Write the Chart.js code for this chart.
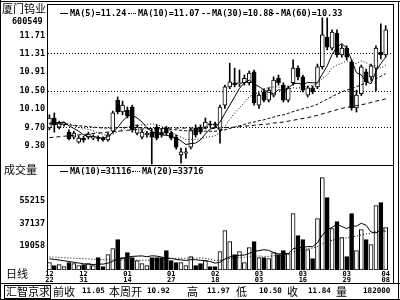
<!DOCTYPE html>
<html>
<head>
<meta charset="utf-8">
<script src="https://cdn.jsdelivr.net/npm/chart.js@4"></script>
<style>
  body { margin: 0; background: #fff; }
  #wrap { position: relative; width: 400px; height: 300px; overflow: hidden; background: #fff; }
  canvas { position: absolute; left: 0; }
  .t { position: absolute; white-space: pre; font: bold 8.5px "DejaVu Sans Mono", monospace; color: #000; line-height: 10px; }
  .s { position: absolute; white-space: pre; font: bold 7.6px "DejaVu Sans Mono", monospace; color: #000; line-height: 10px; }
  .cn { position: absolute; white-space: pre; font: 11px "Noto Sans CJK SC", sans-serif; color: #000; line-height: 12px; }
  .ln { position: absolute; background: #000; }
  .sw { display: inline-block; width: 8px; height: 0; border-top: 1px solid #000; vertical-align: middle; margin-right: 2px; }
  .box { position: absolute; border: 1px solid #000; }
</style>
</head>
<body>
<div id="wrap">
  <canvas id="price" width="393" height="161" style="top:5px"></canvas>
  <canvas id="vol" width="393" height="118" style="top:166px"></canvas>

  <!-- frame -->
  <div class="ln" style="left:0;top:1px;width:400px;height:1px"></div>
  <div class="ln" style="left:47px;top:4px;width:347px;height:1px"></div>
  <div class="ln" style="left:0;top:0;width:1px;height:300px"></div>
  <div class="ln" style="left:393px;top:4px;width:1px;height:280px"></div>
  <div class="ln" style="left:398px;top:1px;width:1px;height:299px"></div>
  <div class="ln" style="left:0;top:283px;width:400px;height:1px"></div>
  <div class="ln" style="left:0;top:299px;width:400px;height:1px"></div>

  <!-- left labels -->
  <div class="cn" style="left:2px;top:2px">厦门钨业</div>
  <div class="t" style="left:12px;top:16px">600549</div>
  <div class="cn" style="left:4px;top:163px">成交量</div>
  <div class="cn" style="left:6px;top:267px">日线</div>

  <!-- price legend -->
  <div class="t" style="left:60px;top:8px"><i class="sw"></i>MA(5)=11.24</div>
  <div class="t" style="left:128px;top:8px"><i class="sw" style="border-top-style:dotted"></i>MA(10)=11.07</div>
  <div class="t" style="left:202px;top:8px"><i class="sw" style="border-top-style:dashed"></i>MA(30)=10.88</div>
  <div class="t" style="left:271px;top:8px"><i class="sw" style="border-top-style:dashed"></i>MA(60)=10.33</div>

  <!-- volume legend -->
  <div class="t" style="left:60px;top:166px"><i class="sw"></i>MA(10)=31116</div>
  <div class="t" style="left:132px;top:166px"><i class="sw" style="border-top-style:dotted"></i>MA(20)=33716</div>

  <!-- status bar -->
  <div class="box" style="left:4px;top:285px;width:45px;height:12px"></div>
  <div class="cn" style="left:6px;top:285px">汇智京求</div>
  <div class="cn" style="left:53px;top:285px">前收</div>
  <div class="s" style="left:82px;top:286px">11.05</div>
  <div class="cn" style="left:109px;top:285px">本周开</div>
  <div class="s" style="left:147px;top:286px">10.92</div>
  <div class="cn" style="left:187px;top:285px">高</div>
  <div class="s" style="left:207px;top:286px">11.97</div>
  <div class="cn" style="left:236px;top:285px">低</div>
  <div class="s" style="left:259px;top:286px">10.50</div>
  <div class="cn" style="left:287px;top:285px">收</div>
  <div class="s" style="left:308px;top:286px">11.84</div>
  <div class="cn" style="left:336px;top:285px">量</div>
  <div class="s" style="left:363px;top:286px">182000</div>
</div>

<script>
// daily candles
const opens = [9.69, 9.91, 9.71, 9.78, 9.60, 9.49, 9.38, 9.47, 9.49, 9.47,
  9.48, 9.47, 9.43, 9.62, 10.30, 10.04, 10.08, 10.15, 9.58, 9.49,
  9.54, 9.60, 9.71, 9.60, 9.69, 9.58, 9.49, 9.10, 9.14, 9.27,
  9.69, 9.71, 9.71, 9.78, 9.78, 9.65, 10.19, 10.59, 10.68, 10.66,
  10.68, 10.68, 10.92, 10.19, 10.48, 10.30, 10.41, 10.78, 10.63, 10.30,
  10.68, 11.00, 10.81, 10.41, 10.57, 10.59, 11.03, 11.68, 11.44, 11.77,
  11.29, 11.44, 11.13, 10.13, 10.44, 10.92, 10.81, 11.00, 11.35, 11.29];
const closes = [9.91, 9.76, 9.80, 9.79, 9.45, 9.58, 9.47, 9.43, 9.56, 9.49,
  9.46, 9.43, 9.54, 10.02, 10.04, 10.19, 9.96, 9.65, 9.71, 9.60,
  9.58, 9.49, 9.47, 9.54, 9.58, 9.47, 9.27, 9.17, 9.17, 9.65,
  9.54, 9.60, 9.82, 9.76, 9.75, 10.15, 10.59, 10.70, 10.64, 10.68,
  10.78, 10.89, 10.24, 10.41, 10.30, 10.52, 10.74, 10.68, 10.30, 10.57,
  11.00, 10.81, 10.52, 10.57, 10.48, 11.03, 11.73, 11.46, 11.79, 11.29,
  11.44, 11.24, 10.13, 10.41, 11.03, 10.70, 11.05, 11.44, 11.29, 11.84];
const highs = [9.98, 10.02, 9.84, 9.82, 9.65, 9.62, 9.52, 9.51, 9.60, 9.54,
  9.52, 9.50, 9.58, 10.06, 10.37, 10.28, 10.15, 10.19, 9.76, 9.65,
  9.62, 9.67, 9.76, 9.67, 9.73, 9.62, 9.54, 9.25, 9.25, 9.69,
  9.76, 9.76, 9.91, 9.84, 9.82, 10.19, 10.63, 11.11, 11.00, 10.96,
  10.85, 10.94, 10.96, 10.46, 10.55, 10.57, 10.81, 10.85, 10.68, 10.61,
  11.18, 11.05, 10.85, 10.61, 10.61, 11.09, 12.10, 12.10, 11.84, 11.84,
  11.51, 11.49, 11.18, 10.52, 11.07, 10.98, 11.09, 11.49, 11.97, 11.93];
const lows = [9.65, 9.60, 9.67, 9.73, 9.43, 9.45, 9.36, 9.38, 9.45, 9.43,
  9.41, 9.40, 9.40, 9.58, 10.00, 9.98, 9.91, 9.60, 9.54, 9.45,
  9.49, 8.90, 9.43, 9.49, 9.54, 9.43, 9.23, 8.92, 9.03, 9.23,
  9.49, 9.56, 9.67, 9.71, 9.69, 9.36, 10.12, 10.55, 10.59, 10.60,
  10.63, 10.63, 10.19, 10.12, 10.26, 10.26, 10.37, 10.63, 10.26, 10.26,
  10.63, 10.74, 10.48, 10.37, 10.44, 10.55, 10.98, 11.40, 11.40, 11.24,
  11.24, 11.18, 10.08, 10.04, 10.40, 10.63, 10.74, 10.50, 11.20, 11.24];

// moving averages as drawn
const ma5 = [9.80, 9.80, 9.81, 9.82, 9.74, 9.68, 9.62, 9.54, 9.50, 9.51,
  9.48, 9.47, 9.50, 9.59, 9.70, 9.84, 9.95, 9.97, 9.91, 9.82,
  9.70, 9.61, 9.57, 9.54, 9.53, 9.51, 9.47, 9.41, 9.33, 9.35,
  9.36, 9.43, 9.56, 9.67, 9.69, 9.82, 10.01, 10.19, 10.37, 10.56,
  10.68, 10.74, 10.65, 10.60, 10.52, 10.47, 10.44, 10.53, 10.51, 10.56,
  10.66, 10.67, 10.64, 10.69, 10.68, 10.68, 10.87, 11.05, 11.30, 11.46,
  11.54, 11.44, 11.18, 10.90, 10.85, 10.70, 10.66, 10.93, 11.10, 11.24];
const ma10 = [9.78, 9.79, 9.80, 9.80, 9.79, 9.74, 9.71, 9.68, 9.66, 9.63,
  9.58, 9.55, 9.52, 9.55, 9.61, 9.66, 9.71, 9.74, 9.75, 9.76,
  9.77, 9.78, 9.77, 9.73, 9.68, 9.61, 9.54, 9.49, 9.44, 9.44,
  9.44, 9.45, 9.49, 9.50, 9.52, 9.59, 9.72, 9.88, 10.02, 10.13,
  10.25, 10.38, 10.42, 10.49, 10.54, 10.58, 10.59, 10.59, 10.56, 10.54,
  10.57, 10.56, 10.59, 10.60, 10.62, 10.67, 10.77, 10.85, 11.00, 11.07,
  11.11, 11.16, 11.12, 11.10, 11.16, 11.12, 11.05, 11.06, 11.00, 11.07];
const ma30 = [9.78, 9.78, 9.77, 9.77, 9.76, 9.75, 9.74, 9.73, 9.72, 9.71,
  9.70, 9.69, 9.69, 9.69, 9.70, 9.70, 9.70, 9.70, 9.70, 9.70,
  9.69, 9.68, 9.68, 9.67, 9.67, 9.66, 9.65, 9.64, 9.63, 9.63,
  9.62, 9.62, 9.62, 9.62, 9.62, 9.63, 9.65, 9.68, 9.71, 9.74,
  9.77, 9.80, 9.82, 9.85, 9.87, 9.90, 9.93, 9.96, 9.98, 10.01,
  10.05, 10.08, 10.11, 10.14, 10.17, 10.21, 10.27, 10.32, 10.38, 10.43,
  10.48, 10.52, 10.55, 10.59, 10.64, 10.68, 10.72, 10.77, 10.82, 10.88];
const ma60 = [9.48, 9.49, 9.50, 9.51, 9.52, 9.53, 9.54, 9.55, 9.56, 9.57,
  9.58, 9.59, 9.60, 9.61, 9.62, 9.63, 9.64, 9.65, 9.66, 9.67,
  9.67, 9.68, 9.68, 9.68, 9.69, 9.69, 9.69, 9.69, 9.69, 9.69,
  9.69, 9.69, 9.69, 9.69, 9.69, 9.69, 9.70, 9.70, 9.71, 9.72,
  9.73, 9.74, 9.75, 9.76, 9.77, 9.78, 9.80, 9.81, 9.82, 9.84,
  9.86, 9.88, 9.90, 9.92, 9.94, 9.97, 10.00, 10.03, 10.06, 10.09,
  10.12, 10.14, 10.16, 10.18, 10.20, 10.22, 10.25, 10.28, 10.30, 10.33];

// volume
const vols = [6000, 3500, 4300, 2700, 5900, 5100, 3500, 4300, 5100, 3500,
  10000, 2700, 12400, 17200, 24400, 10000, 14000, 10000, 7500, 5100,
  3500, 10000, 10000, 10000, 15600, 7500, 5900, 5900, 3500, 10800,
  3500, 5100, 7500, 2700, 2700, 14800, 31600, 22800, 12400, 14800,
  5900, 18000, 22800, 10000, 10000, 9200, 14000, 12400, 15600, 13200,
  45300, 27600, 24400, 16400, 9200, 41300, 74200, 58100, 33200, 38900,
  26000, 10800, 45300, 15600, 32400, 24400, 20400, 51700, 54100, 34000];
const vma10 = [9000, 8500, 8000, 7400, 6800, 6200, 5600, 5000, 4700, 4390,
  4790, 4710, 5520, 6970, 8820, 9310, 10360, 10930, 11170, 11330,
  10680, 11410, 11170, 10450, 9570, 9320, 8510, 8100, 7700, 8270,
  8270, 7780, 7530, 6800, 5510, 6240, 8810, 10500, 11390, 11790,
  12030, 13320, 14850, 15580, 16310, 15750, 13990, 12950, 13270, 13110,
  17050, 18010, 18170, 18810, 18730, 21940, 27960, 32530, 34290, 36860,
  34930, 33250, 35340, 35260, 37580, 35890, 30510, 29870, 31960, 31116];
const vma20 = [10500, 10300, 10100, 9900, 9700, 9500, 9300, 9100, 8900, 8700,
  8500, 8300, 8200, 8100, 8000, 7950, 7900, 7880, 7870, 7860,
  7735, 8060, 8345, 8710, 9195, 9315, 9435, 9515, 9435, 9800,
  9475, 9595, 9350, 8625, 7540, 7780, 8660, 9300, 9545, 10030,
  10150, 10550, 11190, 11190, 10910, 10995, 11400, 11725, 12330, 12450,
  14540, 15665, 16510, 17195, 17520, 18845, 20975, 22740, 23780, 24985,
  25990, 25630, 26755, 27035, 28155, 28915, 29235, 31200, 33125, 33716];

// axis labels
const priceTicks = [11.71, 11.31, 10.91, 10.50, 10.10, 9.70, 9.30];
const priceGrid = [11.31, 10.50, 9.70];
const volTicks = [19058, 37137, 55215];
const dateIdx = [0, 7, 16, 25, 34, 43, 52, 61, 69];
const dateText = ['12/22', '12/31', '01/14', '01/27', '02/18', '03/03', '03/16', '03/29', '04/08'];

const monoFont = { family: 'DejaVu Sans Mono', size: 8.5, weight: 'bold' };
const up = closes.map((c, i) => c >= opens[i]);
const fill = up.map(u => u ? '#fff' : '#000');
const pts = arr => arr.map((v, i) => ({ x: i, y: v }));

const maLine = (data, dash) => ({
  type: 'line', data: pts(data), borderColor: '#000', borderWidth: 1,
  borderDash: dash, pointRadius: 0, tension: 0, order: 0
});

const xAxis = {
  type: 'linear', min: -0.5, max: 70.5, offset: false,
  grid: { display: false, drawTicks: false, offset: false }
};

const leftAxis = (extra) => Object.assign({
  position: 'left',
  ticks: { font: monoFont, color: '#000', padding: 2, autoSkip: false },
  border: { display: true, color: '#000' },
  afterFit: s => { s.width = 47; s.paddingTop = 0; s.paddingBottom = 0; }
}, extra);

const base = {
  responsive: false,
  animation: false,
  devicePixelRatio: 1,
  layout: { padding: 0 },
  plugins: { legend: { display: false }, tooltip: { enabled: false } }
};

// price panel
new Chart(document.getElementById('price'), {
  type: 'bar',
  data: {
    datasets: [
      maLine(ma5, []),
      maLine(ma10, [1, 2]),
      maLine(ma30, [3, 2]),
      maLine(ma60, [4, 3]),
      {
        data: opens.map((o, i) => ({ x: i, y: [o, closes[i]] })),
        backgroundColor: fill, borderColor: '#000', borderWidth: 1, borderSkipped: false,
        barThickness: 4, minBarLength: 1, grouped: false, order: 1
      },
      {
        data: lows.map((l, i) => ({ x: i, y: [l, highs[i]] })),
        backgroundColor: '#000', barThickness: 1, grouped: false, order: 2
      }
    ]
  },
  options: Object.assign({}, base, {
    layout: { padding: { bottom: 1 } },
    scales: {
      x: Object.assign({}, xAxis, {
        ticks: { display: false },
        border: { display: true, color: '#000' },
        afterFit: s => { s.height = 0; s.paddingLeft = 0; s.paddingRight = 0; }
      }),
      y: leftAxis({
        min: 8.881, max: 12.382,
        ticks: { font: monoFont, color: '#000', padding: 2, autoSkip: false, callback: v => v.toFixed(2) },
        grid: {
          drawTicks: false,
          color: ctx => (ctx.tick && priceGrid.includes(ctx.tick.value)) ? '#000' : 'rgba(0,0,0,0)'
        },
        border: { display: true, color: '#000', dash: [1, 2] },
        afterBuildTicks: s => { s.ticks = priceTicks.map(v => ({ value: v })); }
      })
    }
  })
});

// volume panel
new Chart(document.getElementById('vol'), {
  type: 'bar',
  data: {
    datasets: [
      maLine(vma10, []),
      maLine(vma20, [1, 2]),
      {
        data: vols.map((v, i) => ({ x: i, y: v })),
        backgroundColor: fill, borderColor: '#000', borderWidth: 1, borderSkipped: false,
        barThickness: 4, grouped: false, order: 1
      }
    ]
  },
  options: Object.assign({}, base, {
    scales: {
      x: Object.assign({}, xAxis, {
        border: { display: false },
        ticks: {
          autoSkip: false, maxRotation: 0, padding: 1, color: '#000',
          font: { family: 'DejaVu Sans Mono', size: 7, weight: 'bold', lineHeight: 0.9 },
          callback: v => {
            const k = dateIdx.indexOf(v);
            return k < 0 ? '' : dateText[k].split('/');
          }
        },
        afterBuildTicks: s => { s.ticks = dateIdx.map(v => ({ value: v })); },
        afterFit: s => { s.height = 14; s.paddingLeft = 0; s.paddingRight = 0; }
      }),
      y: leftAxis({
        min: 0, max: 83560,
        ticks: { font: monoFont, color: '#000', padding: 2, autoSkip: false, callback: v => String(v) },
        grid: { display: false, drawTicks: false },
        afterBuildTicks: s => { s.ticks = volTicks.map(v => ({ value: v })); }
      })
    }
  })
});
</script>
</body>
</html>
